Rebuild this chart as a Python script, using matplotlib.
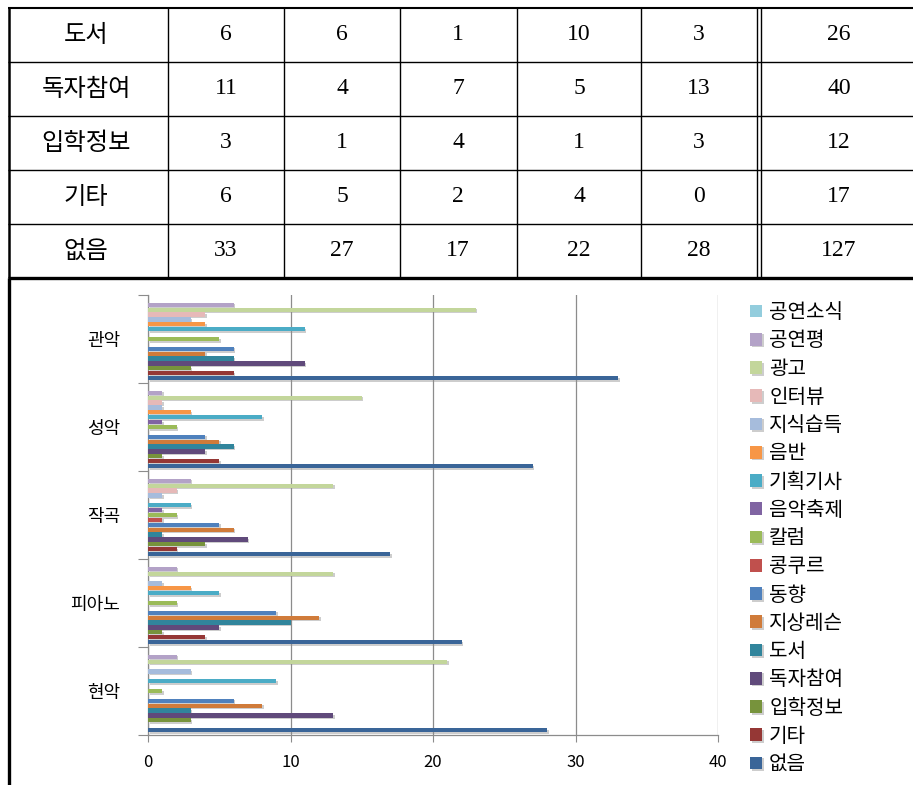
import matplotlib
matplotlib.use("Agg")
import matplotlib.pyplot as plt
import matplotlib.patheffects as pe
from matplotlib.lines import Line2D
import numpy as np

plt.rcParams['font.family'] = ['Noto Sans CJK KR', 'DejaVu Sans']

# categories (departments), top to bottom
categories = ['관악', '성악', '작곡', '피아노', '현악']

# series values per category
gongyeon_sosik = [0, 0, 0, 0, 0]
gongyeon_pyeong = [6, 1, 3, 2, 2]
gwanggo = [23, 15, 13, 13, 21]
interview = [4, 1, 2, 0, 0]
jisik = [3, 1, 1, 1, 3]
eumban = [4, 3, 0, 3, 0]
gihoek = [11, 8, 3, 5, 9]
chukje = [0, 1, 1, 0, 0]
column = [5, 2, 2, 2, 1]
contest = [0, 0, 1, 0, 0]
donghyang = [6, 4, 5, 9, 6]
lesson = [4, 5, 6, 12, 8]
doseo = [6, 6, 1, 10, 3]
dokja = [11, 4, 7, 5, 13]
iphak = [3, 1, 4, 1, 3]
gita = [6, 5, 2, 4, 0]
eopseum = [33, 27, 17, 22, 28]

series_names = ['공연소식', '공연평', '광고', '인터뷰', '지식습득', '음반', '기획기사',
                '음악축제', '칼럼', '콩쿠르', '동향', '지상레슨', '도서', '독자참여',
                '입학정보', '기타', '없음']
series_vals = [gongyeon_sosik, gongyeon_pyeong, gwanggo, interview, jisik, eumban,
               gihoek, chukje, column, contest, donghyang, lesson, doseo, dokja,
               iphak, gita, eopseum]
colors = ['#93CDDD', '#B3A2C7', '#C3D69B', '#E6B9B8', '#A6BCDC', '#F79646', '#4BACC6',
          '#8064A2', '#9BBB59', '#C0504D', '#4F81BD', '#D07B3A', '#31859C', '#604A7B',
          '#77933C', '#953735', '#3A6598']

# table rows shown above the chart
table_names = ['도서', '독자참여', '입학정보', '기타', '없음']
table_vals = [doseo, dokja, iphak, gita, eopseum]

W, H = 913, 785
fig = plt.figure(figsize=(W / 100, H / 100), dpi=100)


def fx(x):
    return x / W


def fy(y):
    return 1 - y / H


def hline(y, x0, x1, lw=1.0):
    fig.add_artist(Line2D([fx(x0), fx(x1)], [fy(y), fy(y)], color='black', lw=lw,
                          transform=fig.transFigure, solid_capstyle='butt'))


def vline(x, y0, y1, lw=1.0):
    fig.add_artist(Line2D([fx(x), fx(x)], [fy(y0), fy(y1)], color='black', lw=lw,
                          transform=fig.transFigure, solid_capstyle='butt'))


# ---- table ----
row_lines = [8, 62, 116, 170, 224, 278]
col_lines = [9, 168, 284, 400, 517, 641, 757, 761]
col_centers = [86, 226, 342, 458, 579, 699, 839]

hline(row_lines[0], 8, W, lw=1.5)
for y in row_lines[1:-1]:
    hline(y, 8, W, lw=1.0)
hline(row_lines[-1], 8, W, lw=2.4)
for x in col_lines:
    vline(x, row_lines[0], row_lines[-1], lw=1.8 if x == 9 else 1.0)
vline(9, row_lines[-1], H, lw=2.4)

for r, (name, vals) in enumerate(zip(table_names, table_vals)):
    yc = fy((row_lines[r] + row_lines[r + 1]) / 2)
    fig.text(fx(col_centers[0]), yc, name, ha='center', va='center', fontsize=17.5)
    for c, v in enumerate(vals + [sum(vals)]):
        fig.text(fx(col_centers[c + 1]), yc, str(v), ha='center', va='center',
                 fontsize=17, family=['Liberation Serif'])

# ---- bar chart ----
ax = fig.add_axes([fx(148), fy(735), fx(718) - fx(148), fy(295) - fy(735)])
n = len(series_names)
slot = 0.945 / n
shadow = [pe.SimplePatchShadow(offset=(1.2, -1.2), shadow_rgbFace='#909090', alpha=0.45),
          pe.Normal()]
for j, (name, vals, col) in enumerate(zip(series_names, series_vals, colors)):
    ys = np.arange(len(categories)) + 0.0275 + (j + 0.5) * slot
    bars = ax.barh(ys, vals, height=slot * 0.85, color=col, label=name, zorder=3)
    for b in bars:
        if b.get_width() > 0:
            b.set_path_effects(shadow)

ax.set_xlim(0, 40)
ax.set_ylim(len(categories), 0)
ax.set_xticks([0, 10, 20, 30, 40])
ax.grid(axis='x', color='#8c8c8c', lw=0.9, zorder=0)
ax.set_yticks(np.arange(len(categories) + 1))
ax.set_yticklabels([])
ax.set_yticks(np.arange(len(categories)) + 0.5, minor=True)
ax.set_yticklabels(categories, minor=True, fontsize=13)
ax.tick_params(axis='y', which='major', length=7, color='#8c8c8c', direction='out')
ax.tick_params(axis='y', which='minor', length=0, pad=20)
ax.tick_params(axis='x', length=5, color='#8c8c8c', direction='out', pad=9, labelsize=12)
for s in ['top', 'right']:
    ax.spines[s].set_visible(False)
for s in ['left', 'bottom']:
    ax.spines[s].set_color('#8c8c8c')
    ax.spines[s].set_linewidth(0.9)

handles, labels = ax.get_legend_handles_labels()
leg = fig.legend(handles, labels, loc='upper left', bbox_to_anchor=(fx(742), fy(294)),
                 frameon=False, fontsize=14.5, handlelength=0.6, handleheight=0.6,
                 handletextpad=0.35, labelspacing=0.36, borderaxespad=0)

fig.savefig('out.png', dpi=100)
